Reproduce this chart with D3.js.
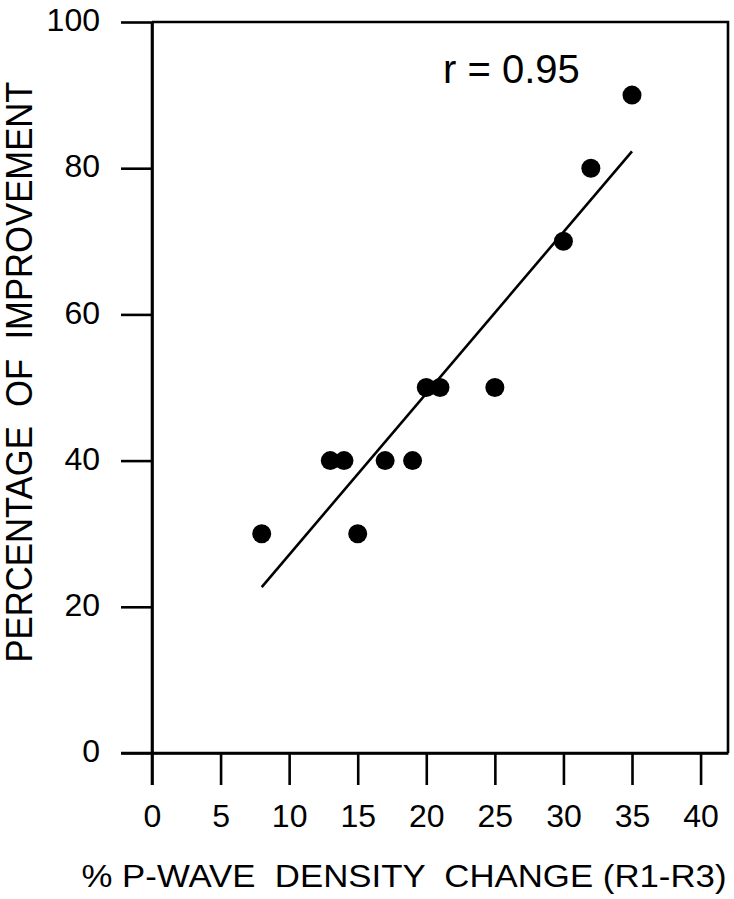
<!DOCTYPE html>
<html>
<head>
<meta charset="utf-8">
<script src="https://cdn.jsdelivr.net/npm/d3@7"></script>
<style>
	body { margin: 0; background: #fff; }
	svg { display: block; }
	.axis text { font-family: 'Liberation Sans', Arial, sans-serif; fill: #000; }
</style>
</head>
<body>
<div id="chart"></div>
<script>
// data
var densityChange = [ 8, 13, 14, 15, 17, 19, 20, 21, 25, 30, 32, 35 ];
var improvement = [ 30, 40, 40, 30, 40, 40, 50, 50, 50, 70, 80, 90 ];
var fitX = [ 8, 35 ];
var fitY = [ 22.7, 82.3 ];
var xTicks = [ 0, 5, 10, 15, 20, 25, 30, 35, 40 ];
var yTicks = [ 0, 20, 40, 60, 80, 100 ];
var rLabel = 'r = 0.95';

var W = 734, H = 899;
var svg = d3.select( '#chart' ).append( 'svg' )
	.attr( 'width', W )
	.attr( 'height', H );

var xScale = d3.scaleLinear().domain( [ 0, 42 ] ).range( [ 152, 728 ] );
var yScale = d3.scaleLinear().domain( [ 0, 100 ] ).range( [ 753, 22 ] );

var font = "'Liberation Sans', Arial, sans-serif";
var sw = 2.6;

// frame (top and right), the axes carry the other two sides
svg.append( 'path' )
	.attr( 'd', 'M' + xScale( 0 ) + ',' + yScale( 100 ) + 'H' + xScale( 42 ) + 'V' + yScale( 0 ) )
	.attr( 'fill', 'none' )
	.attr( 'stroke', '#000' )
	.attr( 'stroke-width', sw );

// X axis
var xAxis = d3.axisBottom( xScale )
	.tickValues( xTicks )
	.tickSize( 32 )
	.tickSizeOuter( 0 )
	.tickPadding( 19 );

var gx = svg.append( 'g' )
	.attr( 'class', 'axis' )
	.attr( 'transform', 'translate(0,' + yScale( 0 ) + ')' )
	.call( xAxis );

// Y axis
var yAxis = d3.axisLeft( yScale )
	.tickValues( yTicks )
	.tickSize( 31 )
	.tickSizeOuter( 0 )
	.tickPadding( 21 );

var gy = svg.append( 'g' )
	.attr( 'class', 'axis' )
	.attr( 'transform', 'translate(' + xScale( 0 ) + ',0)' )
	.call( yAxis );

[ gx, gy ].forEach( function( g ) {
	g.selectAll( 'line, path' ).attr( 'stroke', '#000' ).attr( 'stroke-width', sw );
	g.selectAll( 'text' ).attr( 'font-size', '32px' ).attr( 'font-family', font );
} );
gy.selectAll( 'text' ).attr( 'dy', '0.27em' );

// y axis line continues down through the x=0 tick
svg.append( 'line' )
	.attr( 'x1', xScale( 0 ) ).attr( 'x2', xScale( 0 ) )
	.attr( 'y1', yScale( 100 ) ).attr( 'y2', yScale( 0 ) + 32 )
	.attr( 'stroke', '#000' ).attr( 'stroke-width', sw );
// x axis line continues left through the y=0 tick
svg.append( 'line' )
	.attr( 'x1', xScale( 0 ) - 31 ).attr( 'x2', xScale( 42 ) )
	.attr( 'y1', yScale( 0 ) ).attr( 'y2', yScale( 0 ) )
	.attr( 'stroke', '#000' ).attr( 'stroke-width', sw );

// regression line
svg.append( 'line' )
	.attr( 'x1', xScale( fitX[ 0 ] ) ).attr( 'y1', yScale( fitY[ 0 ] ) )
	.attr( 'x2', xScale( fitX[ 1 ] ) ).attr( 'y2', yScale( fitY[ 1 ] ) )
	.attr( 'stroke', '#000' ).attr( 'stroke-width', 2.6 );

// points
svg.selectAll( '.dot' )
	.data( densityChange )
	.enter()
	.append( 'circle' )
	.attr( 'class', 'dot' )
	.attr( 'cx', function( d ) { return xScale( d ); } )
	.attr( 'cy', function( d, i ) { return yScale( improvement[ i ] ); } )
	.attr( 'r', 9.5 )
	.attr( 'fill', '#000' );

// r label
svg.append( 'text' )
	.attr( 'x', 443 )
	.attr( 'y', 83 )
	.text( rLabel )
	.attr( 'font-family', font )
	.attr( 'font-size', '40px' )
	.attr( 'fill', '#000' );

// axis titles
svg.append( 'text' )
	.attr( 'x', 404 )
	.attr( 'y', 887 )
	.attr( 'text-anchor', 'middle' )
	.attr( 'textLength', 645 )
	.attr( 'lengthAdjust', 'spacingAndGlyphs' )
	.text( '% P-WAVE  DENSITY  CHANGE (R1-R3)' )
	.attr( 'font-family', font )
	.attr( 'font-size', '32px' )
	.attr( 'fill', '#000' )
	.style( 'white-space', 'pre' );

svg.append( 'text' )
	.attr( 'transform', 'translate(32,372) rotate(-90)' )
	.attr( 'text-anchor', 'middle' )
	.attr( 'textLength', 581 )
	.attr( 'lengthAdjust', 'spacingAndGlyphs' )
	.text( 'PERCENTAGE  OF  IMPROVEMENT' )
	.attr( 'font-family', font )
	.attr( 'font-size', '37px' )
	.attr( 'fill', '#000' )
	.style( 'white-space', 'pre' );
</script>
</body>
</html>
